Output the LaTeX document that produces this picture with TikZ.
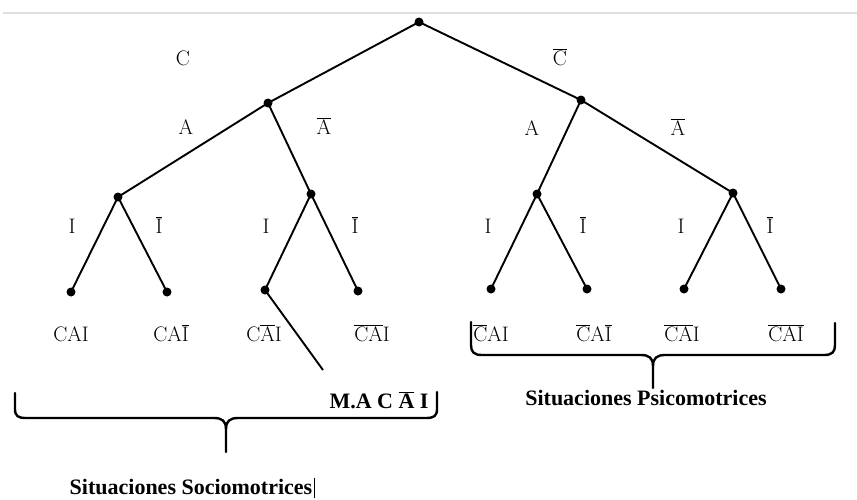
\documentclass[tikz,border=0pt]{standalone}
\usepackage{fontspec}
\newfontfamily\tnr{Liberation Serif}
\newcommand{\ob}[1]{$\overline{\hbox{#1}}$}
\begin{document}
\begin{tikzpicture}[x=1pt,y=-1pt,
  dot/.style={circle,fill=black,inner sep=0pt,minimum size=9pt},
  edge/.style={line width=1.9pt},
  lab/.style={inner sep=0pt,anchor=base,font=\fontsize{21}{24}\selectfont},
  bold/.style={inner sep=0pt,anchor=base,font=\tnr\bfseries\fontsize{22}{25}\selectfont},
  bracestyle/.style={line width=2.4pt,line cap=round,line join=round}]
\useasboundingbox (0,0) rectangle (857,499);
\draw[gray!25,line width=1.5pt] (3,13) -- (857,13);
% nodes
\node[dot] (root) at (419,22) {};
\node[dot] (c) at (268,103) {};
\node[dot] (cb) at (581,100) {};
\node[dot] (ca) at (118,197) {};
\node[dot] (cab) at (311,194) {};
\node[dot] (cba) at (537,194) {};
\node[dot] (cbab) at (733,193) {};
\node[dot] (l1) at (71,292) {};
\node[dot] (l2) at (167,292) {};
\node[dot] (l3) at (265,290) {};
\node[dot] (l4) at (358,291) {};
\node[dot] (l5) at (491,289) {};
\node[dot] (l6) at (587,289) {};
\node[dot] (l7) at (684,289) {};
\node[dot] (l8) at (781,289) {};
% edges
\draw[edge] (root.center) -- (c.center);
\draw[edge] (root.center) -- (cb.center);
\draw[edge] (c.center) -- (ca.center);
\draw[edge] (c.center) -- (cab.center);
\draw[edge] (cb.center) -- (cba.center);
\draw[edge] (cb.center) -- (cbab.center);
\draw[edge] (ca.center) -- (l1.center);
\draw[edge] (ca.center) -- (l2.center);
\draw[edge] (cab.center) -- (l3.center);
\draw[edge] (cab.center) -- (l4.center);
\draw[edge] (cba.center) -- (l5.center);
\draw[edge] (cba.center) -- (l6.center);
\draw[edge] (cbab.center) -- (l7.center);
\draw[edge] (cbab.center) -- (l8.center);
% edge labels
\node[lab] (eC) at (183,65) {C};
\node[lab] (eCb) at (560,65) {\ob{C}};
\node[lab] (eA1) at (186,134) {A};
\node[lab] (eAb1) at (324,134) {\ob{A}};
\node[lab] (eA2) at (532,135) {A};
\node[lab] (eAb2) at (678,135) {\ob{A}};
\node[lab] (eI1) at (72,233) {I};
\node[lab] (eIb1) at (159,233) {\ob{I}};
\node[lab] (eI2) at (266,233) {I};
\node[lab] (eIb2) at (355,233) {\ob{I}};
\node[lab] (eI3) at (488,233) {I};
\node[lab] (eIb3) at (583,233) {\ob{I}};
\node[lab] (eI4) at (681,233) {I};
\node[lab] (eIb4) at (770,233) {\ob{I}};
% leaf labels
\node[lab] (t1) at (71,341) {CAI};
\node[lab] (t2) at (171,341) {CA\ob{I}};
\node[lab] (t3) at (264,341) {C\ob{A}I};
\node[lab] (t4) at (372,341) {\ob{CA}I};
\node[lab] (t5) at (491,341) {\ob{C}AI};
\node[lab] (t6) at (594,341) {\ob{C}A\ob{I}};
\node[lab] (t7) at (682,341) {\ob{C}\ob{A}I};
\node[lab] (t8) at (786,341) {\ob{C}\ob{A}\ob{I}};
% pointer line to M.A label
\coordinate (mend) at (323,370);
\draw[edge] (l3.center) -- (mend);
\node[bold] (mac) at (379,408) {M.A C \ob{A} I};
% left brace
\draw[bracestyle] (15,393) -- (15,409) .. controls (15,416) and (18,418) .. (26,418) -- (214,418) .. controls (222,418) and (226,421) .. (226,429) -- (226,452);
\draw[bracestyle] (437,392) -- (437,409) .. controls (437,416) and (434,418) .. (426,418) -- (238,418) .. controls (230,418) and (226,421) .. (226,429);
% right brace
\draw[bracestyle] (471,322) -- (471,345) .. controls (471,352) and (474,355) .. (482,355) -- (641,355) .. controls (649,355) and (653,358) .. (653,366) -- (653,388);
\draw[bracestyle] (835,323) -- (835,345) .. controls (835,352) and (832,355) .. (824,355) -- (665,355) .. controls (657,355) and (653,358) .. (653,366);
% bottom labels
\node[bold] (psi) at (646,405) {Situaciones Psicomotrices};
\node[bold] (soc) at (191,494) {Situaciones Sociomotrices};
\draw[line width=0.8pt] (314,478) -- (314,498);
\end{tikzpicture}
\end{document}
